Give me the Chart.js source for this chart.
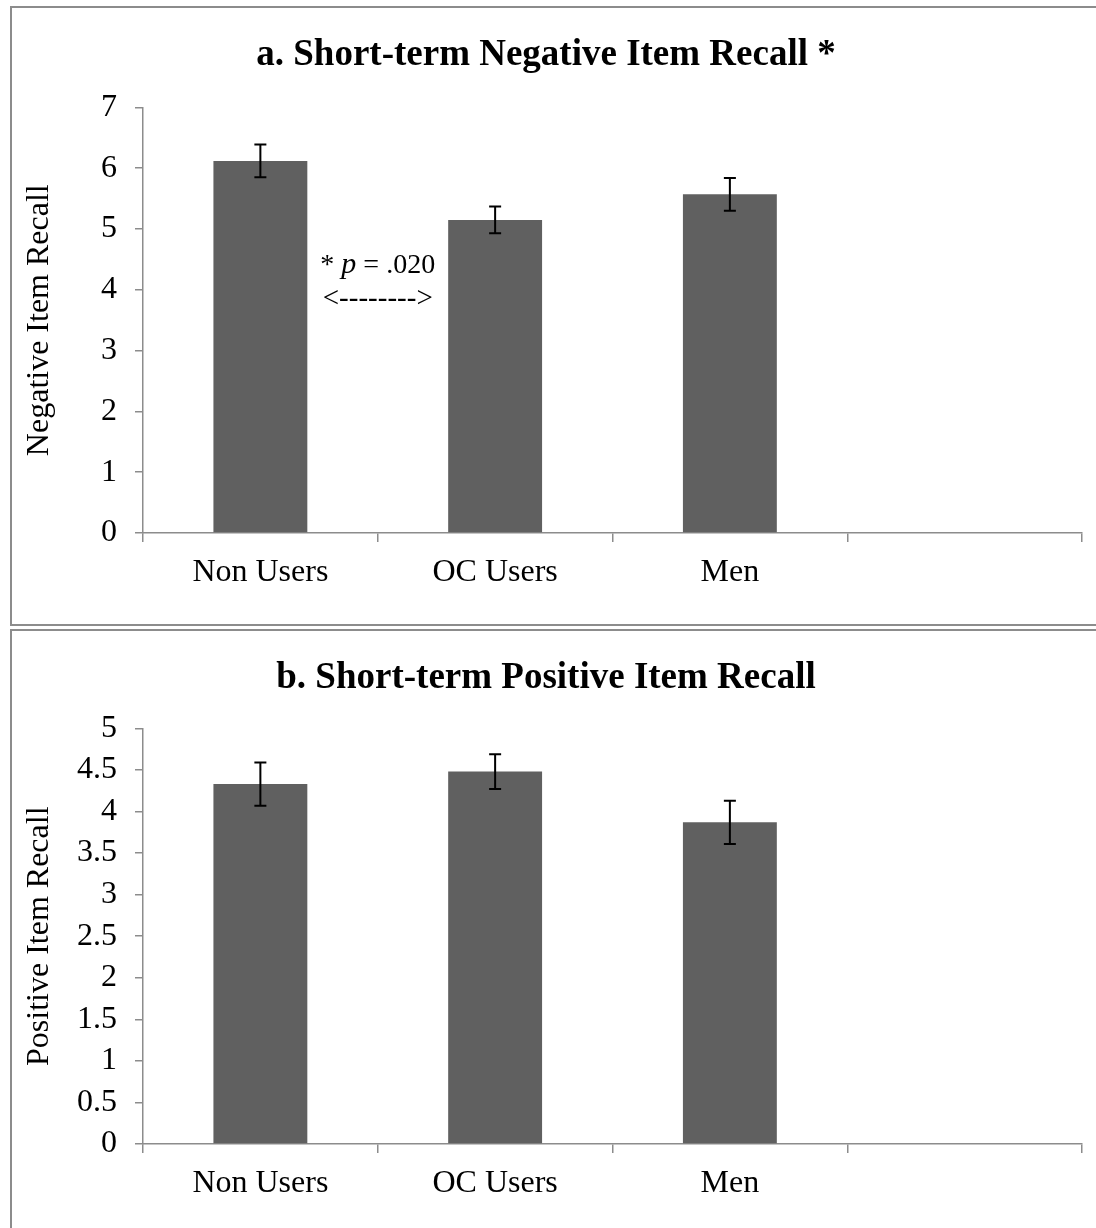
<!DOCTYPE html>
<html>
<head>
<meta charset="utf-8">
<script src="https://cdn.jsdelivr.net/npm/chart.js@4.4.0/dist/chart.umd.min.js"></script>
<style>
  html, body { margin: 0; padding: 0; background: #fff; }
  body { width: 1096px; height: 1228px; position: relative; overflow: hidden; }
  canvas { position: absolute; left: 0; }
  .frame { position: absolute; border: 2px solid #8c8c8c; pointer-events: none; box-sizing: border-box; }
</style>
</head>
<body>
<canvas id="chartA" width="1096" height="625" style="top:0px"></canvas>
<canvas id="chartB" width="1096" height="600" style="top:628px"></canvas>
<div class="frame" style="left:10px; top:6px; width:1200px; height:620px;"></div>
<div class="frame" style="left:10px; top:629px; width:1200px; height:700px;"></div>
<script>
// ---- Data ----
const categories = ['Non Users', 'OC Users', 'Men', ''];

const titleA = 'a. Short-term Negative Item Recall *';
const yTitleA = 'Negative Item Recall';
const negativeRecall = [6.12, 5.15, 5.57, null];
const negativeError = [0.27, 0.22, 0.27, null];

const titleB = 'b. Short-term Positive Item Recall';
const yTitleB = 'Positive Item Recall';
const positiveRecall = [4.33, 4.48, 3.87, null];
const positiveError = [0.26, 0.21, 0.26, null];

// significance annotation (panel a): between category 0 and 1
const annotationBetween = [0, 1];
const annotationTextValue = 4.40;
const annotationArrowValue = 3.84;
const annotationPrefix = '* ';
const annotationItalic = 'p';
const annotationSuffix = ' = .020';
const annotationArrow = '<-------->';

// ---- Styling ----
const FONT = '"Liberation Serif", "Times New Roman", serif';
const AXIS_COLOR = '#8c8c8c';
const BAR_COLOR = '#606060';

const errorBarPlugin = {
  id: 'errorBars',
  afterDatasetsDraw(chart, args, opts) {
    const { ctx } = chart;
    const y = chart.scales.y;
    const meta = chart.getDatasetMeta(0);
    const vals = chart.data.datasets[0].data;
    const errs = opts.errors || [];
    ctx.save();
    ctx.strokeStyle = '#000';
    ctx.lineWidth = 2;
    meta.data.forEach((bar, i) => {
      const v = vals[i], e = errs[i];
      if (v == null || e == null) return;
      const x = bar.x;
      const yt = y.getPixelForValue(v + e);
      const yb = y.getPixelForValue(v - e);
      ctx.beginPath();
      ctx.moveTo(x, yt); ctx.lineTo(x, yb);
      ctx.moveTo(x - 6, yt); ctx.lineTo(x + 6, yt);
      ctx.moveTo(x - 6, yb); ctx.lineTo(x + 6, yb);
      ctx.stroke();
    });
    ctx.restore();
  }
};

const annotationPlugin = {
  id: 'sigAnnotation',
  afterDatasetsDraw(chart, args, opts) {
    if (!opts.show) return;
    const { ctx } = chart;
    const xs = chart.scales.x, ys = chart.scales.y;
    const cx = xs.getPixelForValue((annotationBetween[0] + annotationBetween[1]) / 2);
    const ty = ys.getPixelForValue(annotationTextValue);
    const ay = ys.getPixelForValue(annotationArrowValue);
    ctx.save();
    ctx.fillStyle = '#000';
    ctx.textBaseline = 'middle';
    const normal = '28px ' + FONT;
    const italic = 'italic 30px ' + FONT;
    ctx.font = normal;
    const w1 = ctx.measureText(annotationPrefix).width;
    const w3 = ctx.measureText(annotationSuffix).width;
    ctx.font = italic;
    const w2 = ctx.measureText(annotationItalic).width;
    let x = cx - (w1 + w2 + w3) / 2;
    ctx.textAlign = 'left';
    ctx.font = normal; ctx.fillText(annotationPrefix, x, ty); x += w1;
    ctx.font = italic; ctx.fillText(annotationItalic, x, ty); x += w2;
    ctx.font = normal; ctx.fillText(annotationSuffix, x, ty);
    ctx.textAlign = 'center';
    ctx.font = '29px ' + FONT;
    ctx.fillText(annotationArrow, cx, ay);
    ctx.restore();
  }
};

function makeChart(id, cfg) {
  return new Chart(document.getElementById(id), {
    type: 'bar',
    data: {
      labels: categories,
      datasets: [{
        data: cfg.values,
        backgroundColor: BAR_COLOR,
        borderWidth: 0,
        barPercentage: 0.4,
        categoryPercentage: 1.0
      }]
    },
    options: {
      responsive: false,
      animation: false,
      devicePixelRatio: 1,
      layout: { padding: { left: 10, right: 14, top: 0, bottom: 0 } },
      plugins: {
        legend: { display: false },
        tooltip: { enabled: false },
        title: {
          display: true,
          text: cfg.title,
          color: '#000',
          font: { family: FONT, size: 37, weight: 'bold', lineHeight: 1.2 },
          padding: { top: cfg.titleTop, bottom: cfg.titleBottom }
        },
        errorBars: { errors: cfg.errors },
        sigAnnotation: { show: cfg.annotate }
      },
      scales: {
        x: {
          grid: {
            display: true, drawOnChartArea: false, drawTicks: true,
            tickLength: 9, color: AXIS_COLOR, lineWidth: 1.5, offset: true
          },
          border: { display: true, color: AXIS_COLOR, width: 1.5 },
          ticks: { color: '#000', font: { family: FONT, size: 32 }, padding: 11, maxRotation: 0, autoSkip: false },
          afterFit(scale) { scale.height = cfg.xHeight; }
        },
        y: {
          min: 0, max: cfg.yMax,
          grid: {
            display: true, drawOnChartArea: false, drawTicks: true,
            tickLength: 8, color: AXIS_COLOR, lineWidth: 1.5
          },
          border: { display: true, color: AXIS_COLOR, width: 1.5 },
          ticks: {
            stepSize: cfg.step, color: '#000', font: { family: FONT, size: 32 }, padding: 18,
            callback: (v) => String(Math.round(v * 10) / 10)
          },
          title: {
            display: true, text: cfg.yTitle, color: '#000',
            font: { family: FONT, size: 32 }, padding: { top: 10, bottom: 0 }
          },
          afterFit(scale) { scale.width = 133; }
        }
      }
    },
    plugins: [errorBarPlugin, annotationPlugin]
  });
}

makeChart('chartA', {
  title: titleA, yTitle: yTitleA, values: negativeRecall, errors: negativeError,
  yMax: 7, step: 1, titleTop: 33, titleBottom: 30, xHeight: 92, annotate: true
});
makeChart('chartB', {
  title: titleB, yTitle: yTitleB, values: positiveRecall, errors: positiveError,
  yMax: 5, step: 0.5, titleTop: 28, titleBottom: 28, xHeight: 84, annotate: false
});
</script>
</body>
</html>
